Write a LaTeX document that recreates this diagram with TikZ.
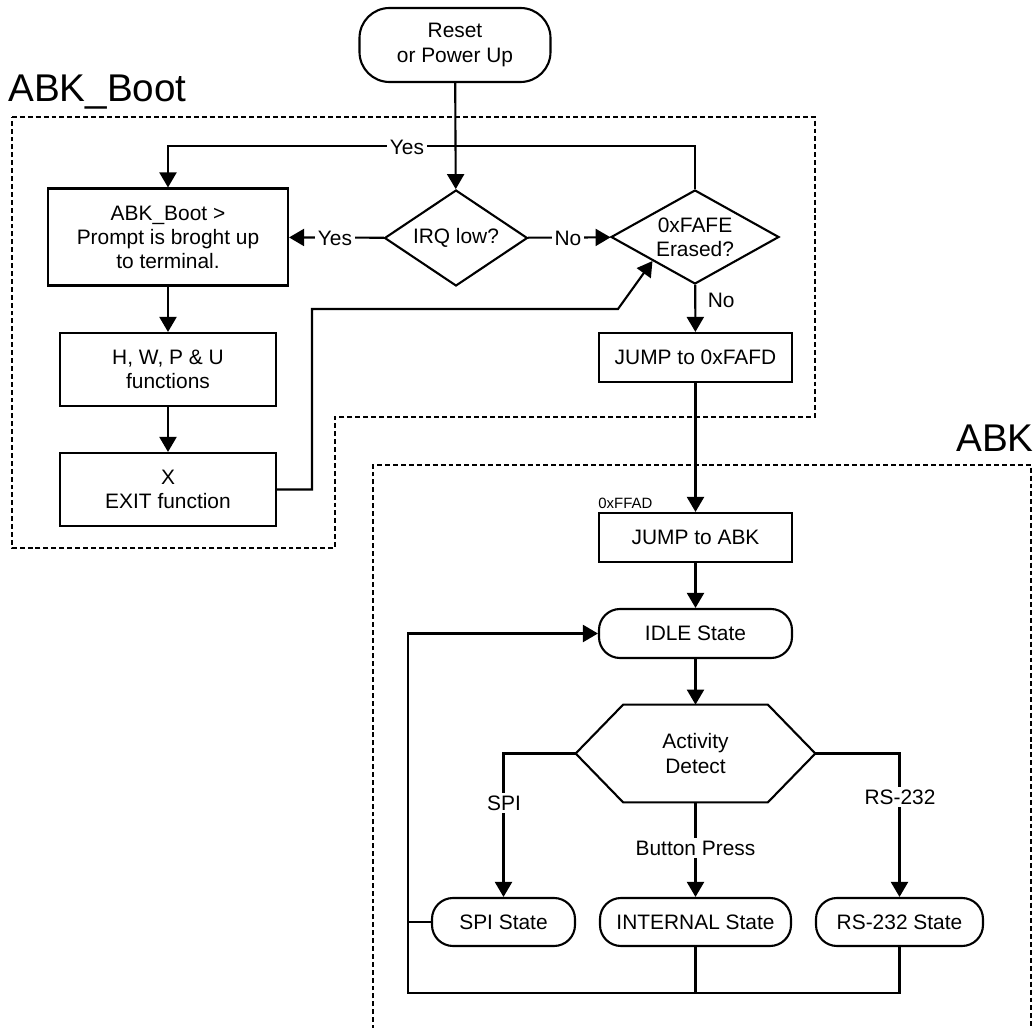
\documentclass[tikz,border=0pt]{standalone}
\usepackage{fontspec}
\setmainfont{Liberation Sans}
\usetikzlibrary{calc,arrows.meta,shapes.geometric}

\begin{document}
\begin{tikzpicture}[font=\fontsize{11.9}{13.7}\selectfont,every node/.style={inner sep=2pt},
  lnk/.style={line width=1.2pt},
  arr/.style={lnk,-{Triangle[length=0.3cm,width=0.34cm]}},
  blk/.style={draw,line width=1.2pt,align=center,inner sep=0pt},
  trm/.style={blk,rounded corners=0.42cm},
  dec/.style={blk,diamond},
  lbl/.style={fill=white,inner sep=1.5pt},
  grp/.style={line width=0.9pt,dash pattern=on 2.8pt off 1.7pt},
  ttl/.style={font=\fontsize{22}{26}\selectfont,inner sep=0pt}]
  \useasboundingbox (0,0) rectangle (20.72,-20.56);
  % group frames
  \draw[grp] (0.24,-2.34) -- (16.30,-2.34) -- (16.30,-8.34) -- (6.70,-8.34) -- (6.70,-10.96) -- (0.24,-10.96) -- cycle;
  \draw[grp] (7.46,-20.60) -- (7.46,-9.30) -- (20.62,-9.30) -- (20.62,-20.60);
  \node[ttl,anchor=base west] (tboot) at (0.16,-2.04) {ABK\_Boot};
  \node[ttl,anchor=base east] (tabk) at (20.68,-9.04) {ABK};
  % boot part
  \node[trm,rounded corners=0.6cm,minimum width=3.82cm,minimum height=1.48cm] (rst) at (9.10,-0.90) {Reset\\or Power Up};
  \node[dec,aspect=1.5,minimum width=2.86cm,minimum height=1.92cm] (irq) at (9.12,-4.76) {IRQ low?};
  \node[dec,aspect=1.79,minimum width=3.36cm,minimum height=1.88cm] (era) at (13.90,-4.74) {0xFAFE\\Erased?};
  \node[blk,minimum width=4.80cm,minimum height=1.94cm] (pr) at (3.36,-4.74) {ABK\_Boot >\\Prompt is broght up\\to terminal.};
  \node[blk,minimum width=4.32cm,minimum height=1.46cm] (fn) at (3.36,-7.39) {H, W, P \& U\\functions};
  \node[blk,minimum width=4.32cm,minimum height=1.46cm] (ex) at (3.36,-9.79) {X\\EXIT function};
  \node[blk,minimum width=3.86cm,minimum height=0.98cm] (jf) at (13.91,-7.15) {JUMP to 0xFAFD};
  \coordinate (c1) at (6.24,-6.18);
  \coordinate (c2) at (12.36,-6.18);
  \draw[arr] (rst) -- (irq);
  \draw[arr] (irq) -- (pr);
  \draw[arr] (irq) -- (era);
  \draw[arr] (era.north) -- ++(0,0.86) -| (pr.north);
  \draw[arr] (era) -- (jf);
  \draw[arr] (pr) -- (fn);
  \draw[arr] (fn) -- (ex);
  \draw[arr] (ex.east) -| (c1) -- (c2) -- (era.south west);
  \node[lbl] (y1) at (8.14,-2.94) {Yes};
  \node[lbl] (y2) at (6.70,-4.76) {Yes};
  \node[lbl] (n1) at (11.36,-4.76) {No};
  \node[anchor=west] (n2) at (14.08,-6.00) {No};
  % ABK part
  \node[font=\fontsize{8.5}{10}\selectfont,anchor=base west,inner sep=0pt] (adr) at (11.96,-10.16) {0xFFAD};
  \node[blk,minimum width=3.86cm,minimum height=0.98cm] (ja) at (13.91,-10.75) {JUMP to ABK};
  \node[trm,minimum width=3.86cm,minimum height=0.98cm] (idle) at (13.91,-12.67) {IDLE State};
  \node[align=center,inner sep=0pt,minimum width=4.78cm,minimum height=1.94cm] (act) at (13.91,-15.07) {Activity\\Detect};
  \draw[lnk] (act.west) -- ($(act.north west)+(0.95,0)$) -- ($(act.north east)+(-0.95,0)$) -- (act.east)
    -- ($(act.south east)+(-0.95,0)$) -- ($(act.south west)+(0.95,0)$) -- cycle;
  \node[trm,minimum width=2.86cm,minimum height=0.96cm] (spi) at (10.07,-18.44) {SPI State};
  \node[trm,minimum width=3.82cm,minimum height=0.96cm] (intl) at (13.91,-18.44) {INTERNAL State};
  \node[trm,minimum width=3.34cm,minimum height=0.96cm] (rs) at (17.99,-18.44) {RS-232 State};
  \coordinate (lp) at (8.16,-19.86);
  \draw[arr] (jf) -- (ja);
  \draw[arr] (ja) -- (idle);
  \draw[arr] (idle) -- (act);
  \draw[arr] (act.west) -| (spi.north);
  \draw[arr] (act.south) -- (intl.north);
  \draw[arr] (act.east) -| (rs.north);
  \draw[arr] (rs.south) |- (lp) |- (idle.west);
  \draw[lnk] (intl.south) -- (intl.south |- lp);
  \draw[lnk] (spi.west) -- (spi.west -| lp);
  \node[lbl] (ls) at (10.08,-16.06) {SPI};
  \node[lbl] (lb) at (13.91,-16.96) {Button Press};
  \node[lbl] (lr) at (18.00,-15.94) {RS-232};
\end{tikzpicture}
\end{document}
